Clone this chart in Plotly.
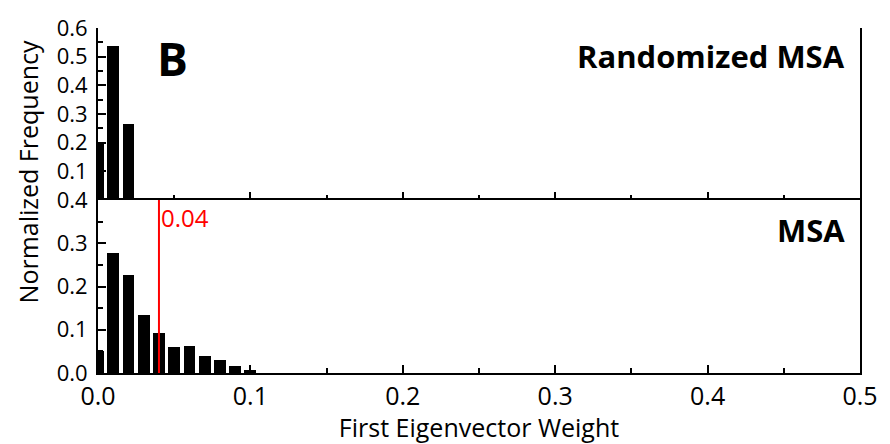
import plotly.graph_objects as go

# Data
bin_centers = [0.00, 0.01, 0.02, 0.03, 0.04, 0.05, 0.06, 0.07, 0.08, 0.09, 0.10]
randomized_freq = [0.195, 0.536, 0.266]
msa_freq = [0.052, 0.277, 0.227, 0.134, 0.092, 0.060, 0.063, 0.040, 0.031, 0.016, 0.008]
threshold = 0.04
x_ticks = [0.0, 0.1, 0.2, 0.3, 0.4, 0.5]
top_y_ticks = [0.1, 0.2, 0.3, 0.4, 0.5, 0.6]
bottom_y_ticks = [0.0, 0.1, 0.2, 0.3, 0.4]

FONT = "Open Sans"
split = 176 / 351

fig = go.Figure()
fig.add_trace(go.Bar(x=bin_centers[:len(randomized_freq)], y=randomized_freq, width=0.0078,
                     marker=dict(color="black", line=dict(width=0)), xaxis="x2", yaxis="y2"))
fig.add_trace(go.Bar(x=bin_centers, y=msa_freq, width=0.0078,
                     marker=dict(color="black", line=dict(width=0)), xaxis="x", yaxis="y"))

axis_common = dict(showline=True, linecolor="black", linewidth=1.8, mirror=True,
                   ticks="inside", ticklen=8, tickwidth=1.5, tickcolor="black",
                   showgrid=False, zeroline=False)
minor_common = dict(ticks="inside", dtick=0.05, tick0=0, ticklen=5, tickwidth=1.5, tickcolor="black")
ytick_font = dict(family=FONT, size=22, color="black")

fig.update_layout(
    width=890, height=444,
    margin=dict(l=98, r=24, t=22, b=71),
    paper_bgcolor="white", plot_bgcolor="white",
    showlegend=False, bargap=0,
    xaxis=dict(**axis_common, domain=[0, 1], anchor="y", range=[0, 0.5],
               tickvals=x_ticks, ticktext=[f"{v:.1f}" for v in x_ticks],
               tickfont=dict(family=FONT, size=25, color="black"),
               minor=minor_common, ticklabelstandoff=0,
               title=dict(text="First Eigenvector Weight", font=dict(family=FONT, size=25, color="black"),
                          standoff=0)),
    xaxis2=dict(showline=False, ticks="inside", ticklen=8, tickwidth=1.5, tickcolor="black",
                showgrid=False, zeroline=False,
                domain=[0, 1], anchor="y2", range=[0, 0.5], matches="x",
                tickvals=x_ticks, showticklabels=False, minor=minor_common),
    yaxis=dict(**axis_common, domain=[0, split], anchor="x", range=[0, 0.4],
               tickvals=bottom_y_ticks, ticktext=[f"{v:.1f}" for v in bottom_y_ticks],
               tickfont=ytick_font, minor=minor_common, ticklabelstandoff=4),
    yaxis2=dict(**axis_common, domain=[split, 1], anchor="x2", range=[0, 0.6],
                tickvals=top_y_ticks, ticktext=[f"{v:.1f}" for v in top_y_ticks],
                tickfont=ytick_font, minor=minor_common, ticklabelstandoff=4),
)

fig.add_shape(type="line", xref="x", yref="y", x0=threshold, x1=threshold, y0=0, y1=0.4,
              line=dict(color="red", width=2))
fig.add_annotation(xref="x", yref="y", x=threshold, y=0.36, text=f"{threshold:.2f}",
                   showarrow=False, xanchor="left", yanchor="middle", xshift=0,
                   font=dict(family=FONT, size=24, color="red"))
fig.add_annotation(xref="x2", yref="y2", x=0.049, y=0.497, text="<b>B</b>", showarrow=False,
                   xanchor="center", yanchor="middle", font=dict(family=FONT, size=46, color="black"))
fig.add_annotation(xref="x2", yref="y2", x=0.4915, y=0.504, text="<b>Randomized MSA</b>", showarrow=False,
                   xanchor="right", yanchor="middle", font=dict(family=FONT, size=31, color="black"))
fig.add_annotation(xref="x", yref="y", x=0.4915, y=0.33, text="<b>MSA</b>", showarrow=False,
                   xanchor="right", yanchor="middle", font=dict(family=FONT, size=31, color="black"))
fig.add_annotation(xref="paper", yref="paper", x=-0.092, y=0.584, text="Normalized Frequency",
                   showarrow=False, textangle=-90, xanchor="center", yanchor="middle",
                   font=dict(family=FONT, size=25, color="black"))

fig.write_html("out.html")
